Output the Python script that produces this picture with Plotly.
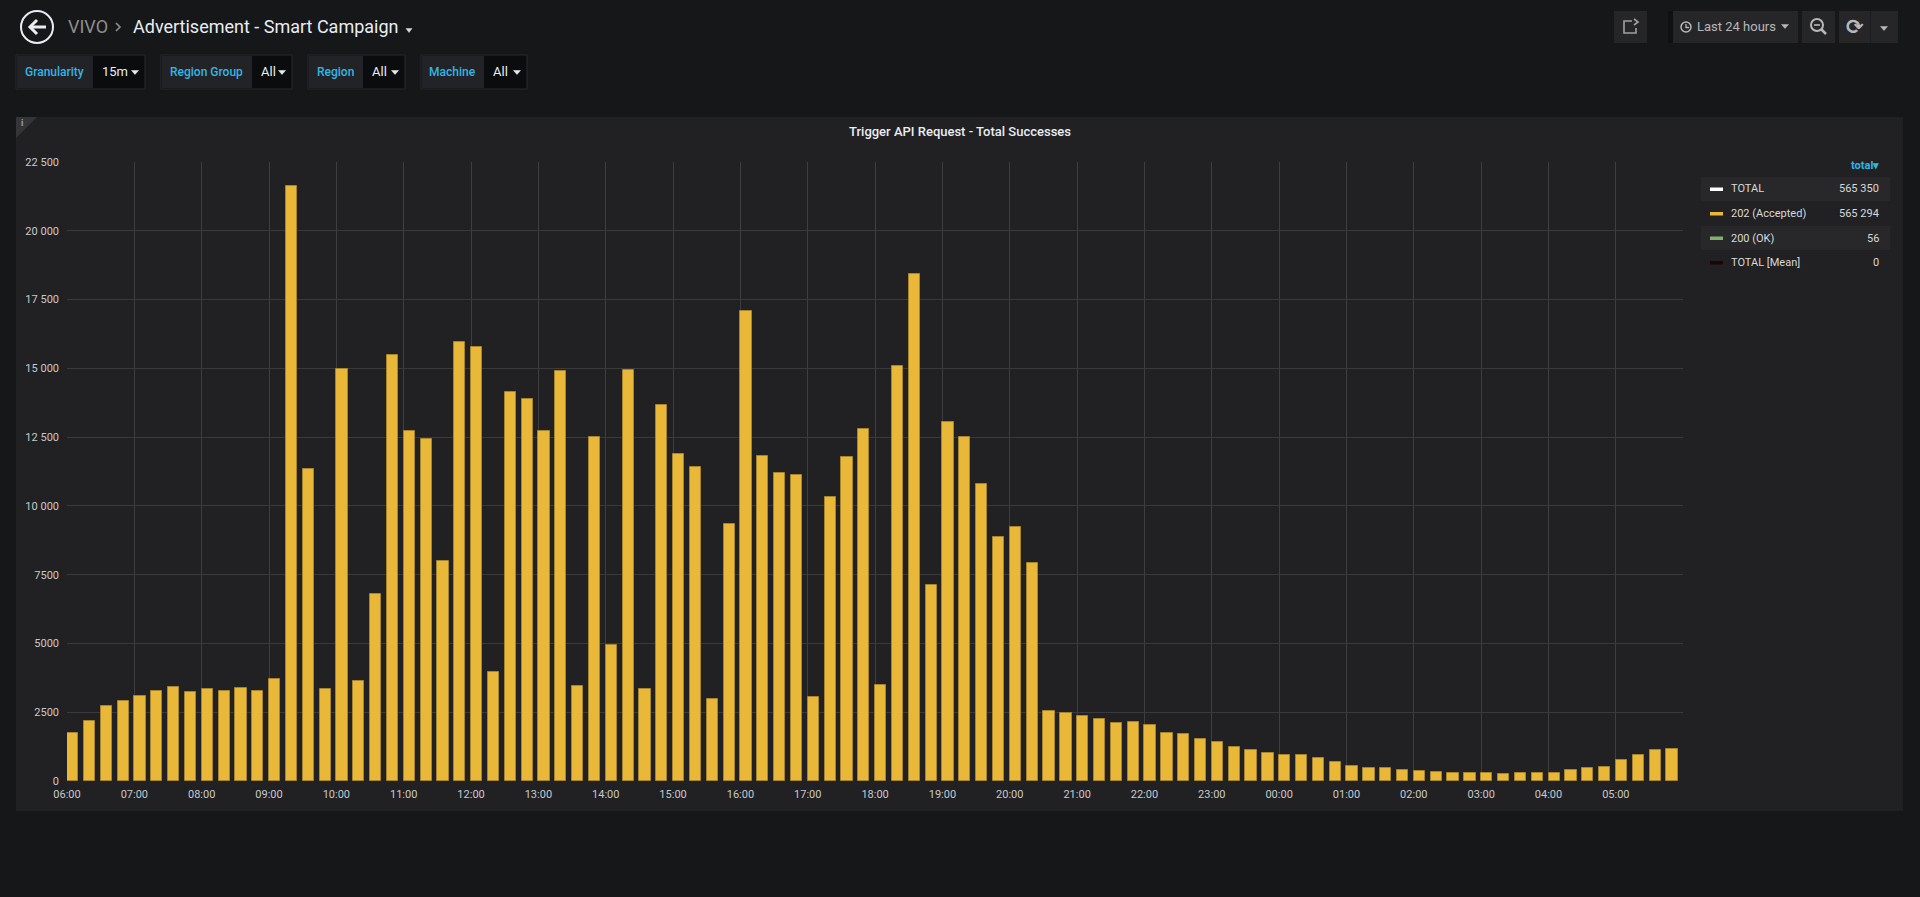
import pandas as pd
import plotly.graph_objects as go

W, H = 1920, 897

# ---- data ----
times = pd.date_range("2019-03-14 06:00", periods=96, freq="15min")
accepted = [
    1740, 2180, 2730, 2920, 3080, 3260, 3410, 3230, 3360, 3260, 3380, 3280, 3700,
    21620, 11350, 3360, 14980, 3620, 6800, 15470, 12740, 12420, 8000, 15960, 15760, 3950,
    14130, 13900, 12720, 14900, 3440, 12490, 4930, 14950, 3360, 13650, 11880, 11410,
    2990, 9360, 17100, 11830, 11180, 11120, 3050, 10310, 11760, 12780, 3480, 15070,
    18420, 7120, 13060, 12490, 10810, 8860, 9250, 7930, 2550, 2490, 2350, 2250, 2120,
    2150, 2030, 1740, 1710, 1510, 1430, 1220, 1130, 1020, 960, 960, 830,
    700, 545, 473, 461, 400, 364, 327, 291, 291, 291, 255, 279, 291, 291,
    412, 473, 521, 751, 958, 1127, 1176,
]
y_ticks = [0, 2500, 5000, 7500, 10000, 12500, 15000, 17500, 20000, 22500]
y_labels = ["0", "2500", "5000", "7500", "10 000", "12 500", "15 000", "17 500", "20 000", "22 500"]

legend_names = ["TOTAL", "202 (Accepted)", "200 (OK)", "TOTAL [Mean]"]
legend_totals = ["565 350", "565 294", "56", "0"]
legend_colors = ["#ffffff", "#EAB839", "#7EB26D", "#1c0505"]

variables = [("Granularity", "15m"), ("Region Group", "All"), ("Region", "All"), ("Machine", "All")]

FONT = "Roboto, 'Noto Sans', sans-serif"
BG = "#161719"
PANEL = "#212124"
BLUE = "#33b5e5"


def X(p):
    return p / W


def Y(p):
    return 1 - p / H


def pth(cmds):
    out = []
    for c in cmds:
        if c == "Z":
            out.append("Z")
        else:
            out.append("%s %.5f %.5f" % (c[0], X(c[1]), Y(c[2])))
    return " ".join(out)


shapes = []
annots = []


def rect(x0, y0, x1, y1, fill, line=None, layer="below"):
    shapes.append(dict(type="rect", xref="paper", yref="paper",
                       x0=X(x0), x1=X(x1), y0=Y(y1), y1=Y(y0),
                       fillcolor=fill, line=dict(width=1 if line else 0, color=line or fill),
                       layer=layer))


def text(x, y, s, size=12, color="#d8d9da", anchor="left", weight=400, family=FONT):
    annots.append(dict(xref="paper", yref="paper", x=X(x), y=Y(y), text=s,
                       showarrow=False, xanchor=anchor, yanchor="middle", borderpad=0,
                       font=dict(size=size, color=color, family=family, weight=weight)))


def path(cmds, color="#d8d9da", width=2, fill=None):
    shapes.append(dict(type="path", xref="paper", yref="paper", path=pth(cmds),
                       line=dict(color=color, width=width),
                       fillcolor=fill or "rgba(0,0,0,0)", layer="above"))


def caret(cx, cy, color="#d8d9da", s=3.5):
    path([("M", cx - s, cy - 1.5), ("L", cx + s, cy - 1.5), ("L", cx, cy + 2.5), "Z"],
         color=color, width=0.5, fill=color)


# ---- header ----
shapes.append(dict(type="circle", xref="paper", yref="paper",
                   x0=X(21), x1=X(53), y0=Y(43), y1=Y(11),
                   line=dict(color="#e9edf2", width=2), layer="above"))
path([("M", 46, 27), ("L", 30, 27)], color="#e9edf2", width=3)
path([("M", 37, 20), ("L", 30, 27), ("L", 37, 34)], color="#e9edf2", width=3)
text(67, 27, "VIVO", size=18, color="#8e8e8e")
path([("M", 116, 23), ("L", 120, 27), ("L", 116, 31)], color="#8e8e8e", width=1.6)
text(132, 27, "Advertisement - Smart Campaign", size=18, color="#e9edf2")
caret(409, 30, color="#d8d9da", s=3)

# top right buttons
BTN = "#262628"
rect(1614, 11, 1647, 43, BTN)
path([("M", 1632, 21), ("L", 1624, 21), ("L", 1624, 33), ("L", 1636, 33), ("L", 1636, 28)],
     color="#9fa0a4", width=1.6)
path([("M", 1628, 29), ("Q", 1629, 22, 1637, 22)], color="#9fa0a4", width=1.8)
path([("M", 1634, 19), ("L", 1638, 22), ("L", 1634, 25)], color="#9fa0a4", width=1.6)

rect(1668, 11, 1673, 43, "#0f1012")
rect(1673, 11, 1798, 43, BTN)
shapes.append(dict(type="circle", xref="paper", yref="paper",
                   x0=X(1681), x1=X(1691), y0=Y(32), y1=Y(22),
                   line=dict(color="#b7b8bb", width=1.5), layer="above"))
path([("M", 1686, 24), ("L", 1686, 27.5), ("L", 1689, 27.5)], color="#b7b8bb", width=1.3)
text(1696, 27, "Last 24 hours", size=13, color="#b7b8bb")
caret(1785, 26, color="#b7b8bb")

rect(1802, 11, 1835, 43, BTN)
shapes.append(dict(type="circle", xref="paper", yref="paper",
                   x0=X(1811), x1=X(1823), y0=Y(31), y1=Y(19),
                   line=dict(color="#b7b8bb", width=2), layer="above"))
path([("M", 1821, 29), ("L", 1826, 34)], color="#b7b8bb", width=2.5)
path([("M", 1814, 25), ("L", 1820, 25)], color="#b7b8bb", width=1.6)

rect(1839, 11, 1898, 43, BTN)
rect(1870, 11, 1871, 43, "#1c1d20")
text(1855, 27, "⟳", size=21, color="#b7b8bb", anchor="center", family="DejaVu Sans", weight=700)
caret(1884, 28, color="#b7b8bb")

# template variables
var_boxes = [(16, 93, 145), (161, 252, 292), (308, 363, 405), (421, 484, 527)]
for (name, val), (a, b, c) in zip(variables, var_boxes):
    rect(a, 55, c, 89, "#0b0c0e", line="#2a2b2f")
    rect(a + 1, 56, b, 88, "#222327")
    text((a + b) / 2, 72, name, size=12, color=BLUE, anchor="center", weight=500)
    text(b + 8, 72, val, size=13, color="#e9edf2")
    caret(c - 10, 72, color="#e9edf2")

# ---- panel ----
rect(16, 117, 1903, 811, PANEL)
path([("M", 16, 117), ("L", 37, 117), ("L", 16, 138), "Z"], color="#343538", width=0, fill="#343538")
text(22, 123, "i", size=9, color="#9fa0a4", anchor="center", weight=700)
text(960, 131, "Trigger API Request - Total Successes", size=13, color="#e9edf2",
     anchor="center", weight=500)

# legend table
text(1880, 166, "total▾", size=11, color=BLUE, anchor="right", weight=700)
for i, (nm, tot, col) in enumerate(zip(legend_names, legend_totals, legend_colors)):
    cy = 189 + i * 24.5
    if i % 2 == 0:
        rect(1701, cy - 12, 1890, cy + 12, "#28282b")
    rect(1710, cy - 1.5, 1723, cy + 2, col)
    text(1730, cy, nm, size=11, color="#d8d9da")
    text(1880, cy, tot, size=11, color="#d8d9da", anchor="right")

fig = go.Figure()
fig.add_trace(go.Bar(
    x=times, y=accepted, name="202 (Accepted)",
    width=600000, offset=0,
    marker=dict(color="#EAB839", line=dict(color="#a8842a", width=1)),
    hoverinfo="skip",
))

fig.update_layout(
    width=W, height=H,
    margin=dict(l=0, r=0, t=0, b=0, pad=0, autoexpand=False),
    paper_bgcolor=BG, plot_bgcolor=PANEL,
    showlegend=False,
    shapes=shapes, annotations=annots,
    bargap=0,
    font=dict(family=FONT, color="#c8c9ca"),
    xaxis=dict(
        domain=[X(67), X(1683)], automargin=False,
        range=["2019-03-14 06:00:00", "2019-03-15 05:59:50"],
        type="date", tickformat="%H:%M", dtick=3600000, tick0="2019-03-14 06:00",
        showgrid=True, gridcolor="#3e3e41", gridwidth=1,
        zeroline=False, showline=False, ticks="",
        tickfont=dict(size=11, color="#c8c9ca"), ticklabelstandoff=5,
        fixedrange=True,
    ),
    yaxis=dict(
        domain=[Y(781), Y(162)], automargin=False,
        range=[0, 22500], tickvals=y_ticks, ticktext=y_labels,
        showgrid=True, gridcolor="#3a3a3d", gridwidth=1,
        zeroline=False, showline=False, ticks="",
        tickfont=dict(size=11, color="#c8c9ca"), ticklabelstandoff=7,
        fixedrange=True,
    ),
)

fig.write_html("out.html", config=dict(displayModeBar=False),
               post_script="document.body.style.margin='0';document.body.style.overflow='hidden';document.body.style.background='%s';" % BG)
